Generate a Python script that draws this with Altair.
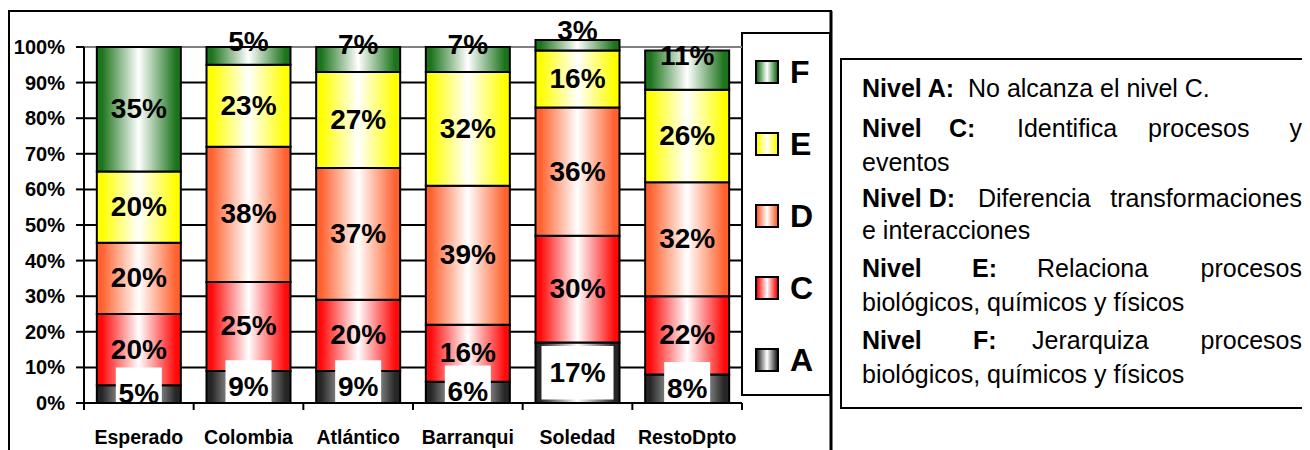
import altair as alt
import pandas as pd

# ---------------- data ----------------
categories = ["Esperado", "Colombia", "Atlántico", "Barranqui", "Soledad", "RestoDpto"]
levels = ["A", "C", "D", "E", "F"]
nivel_A = [5, 9, 9, 6, 17, 8]
nivel_C = [20, 25, 20, 16, 30, 22]
nivel_D = [20, 38, 37, 39, 36, 32]
nivel_E = [20, 23, 27, 32, 16, 26]
nivel_F = [35, 5, 7, 7, 3, 11]
y_ticks = [0, 10, 20, 30, 40, 50, 60, 70, 80, 90, 100]
legend_order = ["F", "E", "D", "C", "A"]

series = {"A": nivel_A, "C": nivel_C, "D": nivel_D, "E": nivel_E, "F": nivel_F}
level_colors = {"A": "#262626", "C": "#ff0a0a", "D": "#ff6230", "E": "#ffff00", "F": "#1c741c"}

df = pd.DataFrame(
    [{"cat": c, "level": lv, "order": i, "value": series[lv][j]}
     for i, lv in enumerate(levels) for j, c in enumerate(categories)]
)
ticks_df = pd.DataFrame({"t": y_ticks})
cats_df = pd.DataFrame({"cat": categories})
one = pd.DataFrame({"k": [0]})

FONT = "Liberation Sans"

XS = alt.Scale(domain=categories, range=[76, 734], paddingInner=0, paddingOuter=0)
YS = alt.Scale(domain=[0, 100], range=[395, 39], nice=False, zero=False)


def grad(c):
    return alt.LinearGradient(
        gradient="linear", x1=0, x2=1, y1=0, y2=0,
        stops=[alt.GradientStop(color=c, offset=0),
               alt.GradientStop(color=c, offset=0.06),
               alt.GradientStop(color="#ffffff", offset=0.5),
               alt.GradientStop(color=c, offset=0.94),
               alt.GradientStop(color=c, offset=1)],
    )


def box(x1, x2, y1, y2, sw=2, fill="white"):
    return alt.Chart(one).mark_rect(fill=fill, stroke="black", strokeWidth=sw).encode(
        x=alt.value(x1), x2=alt.value(x2), y=alt.value(y1), y2=alt.value(y2))


def txt(s, x, y, size, weight="normal", align="left", baseline="alphabetic", font=FONT):
    return alt.Chart(one).mark_text(
        align=align, baseline=baseline, fontSize=size, fontWeight=weight, font=font, color="black"
    ).encode(x=alt.value(x), y=alt.value(y), text=alt.value(s))


X = alt.X("cat:N", scale=XS, axis=None, sort=categories)

stacked = (
    alt.Chart(df)
    .transform_stack(stack="value", groupby=["cat"], as_=["y0", "y1"],
                     sort=[alt.SortField(field="order", order="ascending")])
    .transform_calculate(mid="(datum.y0 + datum.y1) / 2", label="datum.value + '%'")
)

# frames
outer = box(1, 823, 3, 470)
textbox = box(833, 1320, 51, 400)
legbox = box(734, 822, 25, 387)

# grid
grid = alt.Chart(ticks_df).mark_rule(strokeWidth=2).encode(
    x=alt.value(76), x2=alt.value(734),
    y=alt.Y("t:Q", scale=YS, axis=None),
    color=alt.condition(alt.datum.t == 100, alt.value("#808080"), alt.value("black")),
)
yticks = alt.Chart(ticks_df).mark_rule(strokeWidth=2, color="black").encode(
    x=alt.value(68), x2=alt.value(76), y=alt.Y("t:Q", scale=YS, axis=None))
ylabels = alt.Chart(ticks_df).transform_calculate(lab="datum.t + '%'").mark_text(
    align="right", baseline="middle", fontSize=20, fontWeight="bold", font=FONT, color="black", dy=1
).encode(x=alt.value(57), y=alt.Y("t:Q", scale=YS, axis=None), text="lab:N")

# bars
bars = [
    stacked.transform_filter(alt.datum.level == lv).mark_bar(
        width=alt.RelativeBandSize(band=0.766), fill=grad(level_colors[lv]),
        stroke="black", strokeWidth=2,
    ).encode(x=X, y=alt.Y("y1:Q", scale=YS, axis=None), y2="y0:Q")
    for lv in levels
]

# white boxes behind A labels
box_base = stacked.transform_filter(alt.datum.level == "A").transform_calculate(
    bt="datum.mid + 7.5", bb="max(0, datum.mid - 7.5)", n="length(datum.label)")
wbox2 = box_base.transform_filter("datum.n <= 2").mark_bar(width=46, fill="white", strokeWidth=0).encode(
    x=X, y=alt.Y("bt:Q", scale=YS, axis=None), y2="bb:Q")
wbox3 = box_base.transform_filter("datum.n > 2").mark_bar(width=72, fill="white", strokeWidth=0).encode(
    x=X, y=alt.Y("bt:Q", scale=YS, axis=None), y2="bb:Q")

# axis lines
yaxis = alt.Chart(one).mark_rule(strokeWidth=2, color="black").encode(
    x=alt.value(76), y=alt.YDatum(0, scale=YS, axis=None), y2=alt.Y2Datum(100))
xaxis = alt.Chart(one).mark_rule(strokeWidth=2, color="black").encode(
    x=alt.value(76), x2=alt.value(734), y=alt.YDatum(0, scale=YS, axis=None))
xticks = alt.Chart(cats_df).mark_rule(strokeWidth=2, color="black").encode(
    x=alt.X("cat:N", scale=XS, axis=None, sort=categories, bandPosition=0),
    y=alt.value(395), y2=alt.value(402))
xtick_last = alt.Chart(one).mark_rule(strokeWidth=2, color="black").encode(
    x=alt.value(734), y=alt.value(395), y2=alt.value(402))
xlabels = alt.Chart(cats_df).mark_text(
    align="center", baseline="alphabetic", fontSize=19.5, fontWeight="bold", font=FONT, color="black"
).encode(x=X, y=alt.value(436), text="cat:N")

# value labels
labels = stacked.transform_calculate(
    ly="datum.level == 'F' && datum.value < 15 ? datum.mid + 4 : datum.mid"
).mark_text(
    align="center", baseline="middle", fontSize=28, fontWeight="bold", font=FONT, color="black", dy=1
).encode(x=X, y=alt.Y("ly:Q", scale=YS, axis=None), text="label:N")

# legend
legend_layers = []
for k, lv in enumerate(legend_order):
    cy = 64 + 72 * k
    legend_layers.append(
        alt.Chart(one).mark_rect(fill=grad(level_colors[lv]), stroke="black", strokeWidth=2).encode(
            x=alt.value(748), x2=alt.value(770), y=alt.value(cy - 11), y2=alt.value(cy + 11)))
    legend_layers.append(txt(lv, 782, cy + 1, 32, "bold", "left", "middle"))

# text box
L = 854
R = 1294
FS = 25
text_layers = [
    txt("Nivel A:", L, 89, FS, "bold"), txt("No alcanza el nivel C.", 960, 89, FS),
    txt("Nivel", L, 129, FS, "bold"), txt("C:", 941, 129, FS, "bold"),
    txt("Identifica", 1009, 129, FS), txt("procesos", 1140, 129, FS), txt("y", R, 129, FS, align="right"),
    txt("eventos", L, 163, FS),
    txt("Nivel D:", L, 199, FS, "bold"), txt("Diferencia", 970, 199, FS),
    txt("transformaciones", R, 199, FS, align="right"),
    txt("e interacciones", L, 231, FS),
    txt("Nivel", L, 269, FS, "bold"), txt("E:", 964, 269, FS, "bold"),
    txt("Relaciona", 1029, 269, FS), txt("procesos", R, 269, FS, align="right"),
    txt("biológicos, químicos y físicos", L, 303, FS),
    txt("Nivel", L, 341, FS, "bold"), txt("F:", 965, 341, FS, "bold"),
    txt("Jerarquiza", 1024, 341, FS), txt("procesos", R, 341, FS, align="right"),
    txt("biológicos, químicos y físicos", L, 375, FS),
]

right_edge = alt.Chart(one).mark_rule(strokeWidth=3, color="black").encode(
    x=alt.value(823), y=alt.value(3), y2=alt.value(470))

chart = alt.layer(
    outer, textbox, legbox, grid, yticks, *bars, wbox2, wbox3,
    yaxis, xaxis, xticks, xtick_last, labels, ylabels, xlabels,
    *legend_layers, *text_layers, right_edge,
).properties(
    width=1294, height=442, autosize=alt.AutoSizeParams(type="none"), padding=0,
    background="white",
).configure_view(stroke=None)

chart.save("out.html", embed_options={"renderer": "svg", "actions": False})
